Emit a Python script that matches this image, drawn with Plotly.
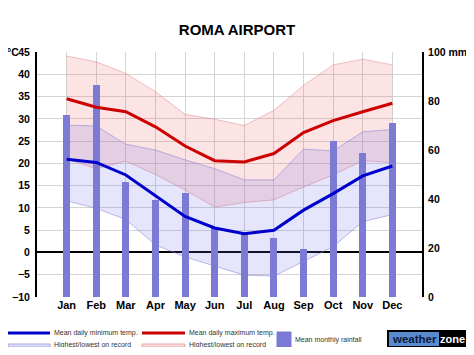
import plotly.graph_objects as go

months = ['Jan', 'Feb', 'Mar', 'Apr', 'May', 'Jun', 'Jul', 'Aug', 'Sep', 'Oct', 'Nov', 'Dec']
rain_mm = [74.4, 86.5, 46.8, 39.6, 42.3, 28.0, 26.7, 24.0, 19.5, 63.8, 58.6, 71.1]
max_mean = [34.5, 32.6, 31.6, 28.2, 23.9, 20.6, 20.3, 22.2, 26.9, 29.6, 31.6, 33.5]
max_high = [44.1, 42.8, 40.2, 36.1, 31.0, 29.9, 28.5, 31.9, 37.5, 42.1, 43.4, 42.1]
max_low = [21.0, 18.8, 20.5, 17.5, 14.0, 10.2, 11.2, 11.8, 14.7, 17.4, 20.6, 20.2]
min_mean = [20.9, 20.2, 17.4, 12.7, 8.1, 5.5, 4.2, 5.0, 9.5, 13.2, 17.2, 19.4]
min_high = [28.6, 28.4, 24.3, 23.0, 20.8, 18.8, 16.3, 16.3, 23.2, 22.8, 27.1, 27.6]
min_low = [11.6, 9.9, 7.4, 1.7, -1.0, -3.0, -5.1, -5.3, -2.0, 1.3, 6.9, 8.5]
temp_ticks = list(range(-10, 50, 5))
rain_ticks = [0, 20, 40, 60, 80, 100]
rain_labels = ['0', '20', '40', '60', '80', '100 mm']

# the page body has an 8px margin, so the figure is drawn 8px in from the corner
OFF = 8
W, H = 474 - 2 * OFF, 355 - 2 * OFF
# plot area in reference (window) pixels
L, R, T, B = 37, 422, 52, 297

FONT = 'Arial, Liberation Sans, sans-serif'

fig = go.Figure()

# bands (bottom layer, y)
fig.add_trace(go.Scatter(x=months, y=max_low, mode='lines', line=dict(color='rgba(220,120,130,0.45)', width=1),
                         hoverinfo='skip', showlegend=False, xaxis='x', yaxis='y'))
fig.add_trace(go.Scatter(x=months, y=max_high, mode='lines', line=dict(color='rgba(220,120,130,0.45)', width=1),
                         fill='tonexty', fillcolor='rgba(240,90,90,0.16)', hoverinfo='skip', showlegend=False,
                         xaxis='x', yaxis='y'))
fig.add_trace(go.Scatter(x=months, y=min_low, mode='lines', line=dict(color='rgba(130,120,210,0.5)', width=1),
                         hoverinfo='skip', showlegend=False, xaxis='x', yaxis='y'))
fig.add_trace(go.Scatter(x=months, y=min_high, mode='lines', line=dict(color='rgba(130,120,210,0.5)', width=1),
                         fill='tonexty', fillcolor='rgba(100,100,230,0.17)', hoverinfo='skip', showlegend=False,
                         xaxis='x', yaxis='y'))

# rainfall bars (middle layer, y2)
fig.add_trace(go.Bar(x=months, y=rain_mm, width=0.24, marker=dict(color='#7b7bd6', line=dict(width=0)),
                     showlegend=False, xaxis='x', yaxis='y2'))

# mean lines (top layer, y3)
fig.add_trace(go.Scatter(x=months, y=max_mean, mode='lines', line=dict(color='#cc0000', width=3),
                         showlegend=False, xaxis='x', yaxis='y3'))
fig.add_trace(go.Scatter(x=months, y=min_mean, mode='lines', line=dict(color='#0000cc', width=3),
                         showlegend=False, xaxis='x', yaxis='y3'))

xtickfont = dict(family=FONT, size=11, color='#000', weight='bold')
ytickfont = dict(family=FONT, size=10.5, color='#000', weight='bold')

fig.update_layout(
    width=W, height=H,
    margin=dict(l=L - OFF, r=W - (R - OFF), t=T - OFF, b=H - (B - OFF), pad=0, autoexpand=False),
    paper_bgcolor='white', plot_bgcolor='white',
    bargap=0,
    title=dict(text='ROMA AIRPORT', x=(237 - OFF) / W, xanchor='center', y=1 - (30 - OFF) / H, yanchor='middle',
               xref='container', yref='container', automargin=False,
               font=dict(family=FONT, size=15, color='#000', weight='bold')),
    xaxis=dict(type='category', range=[-1, 12], showgrid=True, gridcolor='#d4d4d4', gridwidth=1,
               showline=False, zeroline=False, ticks='', tickfont=xtickfont, automargin=False),
    yaxis=dict(range=[-10, 45], tickvals=temp_ticks, showgrid=True, gridcolor='#d4d4d4', gridwidth=1,
               zeroline=True, zerolinecolor='#000', zerolinewidth=2,
               showline=True, linecolor='#000', linewidth=2, ticks='', tickfont=ytickfont,
               ticklabelstandoff=3, side='left', automargin=False),
    yaxis2=dict(range=[0, 100], overlaying='y', side='right', tickvals=rain_ticks, ticktext=rain_labels,
                showgrid=False, zeroline=False, showline=True, linecolor='#000', linewidth=2,
                ticks='', tickfont=ytickfont, ticklabelstandoff=2, automargin=False),
    yaxis3=dict(range=[-10, 45], overlaying='y', visible=False, automargin=False),
)


def px(x):
    return (x - L) / (R - L)


def py(y):
    return (B - y) / (B - T)


shapes = []
ann = []

ann.append(dict(x=px(13), y=py(52), xref='paper', yref='paper', text='°C', showarrow=False,
                font=dict(family=FONT, size=10.5, color='#000', weight='bold'), xanchor='center', yanchor='middle',
                borderpad=0))

small = dict(family=FONT, size=7, color='#333')


def legend_line(x0, x1, y, color, text):
    shapes.append(dict(type='line', xref='paper', yref='paper', x0=px(x0), x1=px(x1), y0=py(y), y1=py(y),
                       line=dict(color=color, width=3)))
    ann.append(dict(x=px(x1 + 3), y=py(y), xref='paper', yref='paper', text=text, showarrow=False,
                    font=small, xanchor='left', yanchor='middle', borderpad=0))


def legend_rect(x0, x1, y0, y1, fill, border, text, ty):
    shapes.append(dict(type='rect', xref='paper', yref='paper', x0=px(x0), x1=px(x1), y0=py(y0), y1=py(y1),
                       fillcolor=fill, line=dict(color=border, width=1)))
    ann.append(dict(x=px(x1 + 3), y=py(ty), xref='paper', yref='paper', text=text, showarrow=False,
                    font=small, xanchor='left', yanchor='middle', borderpad=0))


legend_line(8, 50, 333, '#0000cc', 'Mean daily minimum temp.')
legend_rect(8, 50, 344, 347, '#dedef8', '#a8a8e0', 'Highest/lowest on record', 345)
legend_line(142, 185, 333, '#cc0000', 'Mean daily maximum temp.')
legend_rect(142, 185, 344, 347, '#fadcdc', '#e8a8a8', 'Highest/lowest on record', 345)
legend_rect(277, 291, 332, 347, '#7b7bd6', '#7b7bd6', 'Mean monthly rainfall', 339.5)

# weatherzone logo
shapes.append(dict(type='rect', xref='paper', yref='paper', x0=px(387), x1=px(468), y0=py(330), y1=py(348),
                   fillcolor='#000', line=dict(width=0)))
shapes.append(dict(type='rect', xref='paper', yref='paper', x0=px(389), x1=px(439), y0=py(332), y1=py(346),
                   fillcolor='#5a8ad0', line=dict(width=0)))
ann.append(dict(x=px(414), y=py(339), xref='paper', yref='paper', text='weather', showarrow=False,
                font=dict(family=FONT, size=11.5, color='#0b1a3a', weight='bold'), xanchor='center',
                yanchor='middle', borderpad=0))
ann.append(dict(x=px(453), y=py(339), xref='paper', yref='paper', text='zone', showarrow=False,
                font=dict(family=FONT, size=11, color='#fff', weight='bold'), xanchor='center',
                yanchor='middle', borderpad=0))

fig.update_layout(shapes=shapes, annotations=ann)

fig.write_html('out.html')
